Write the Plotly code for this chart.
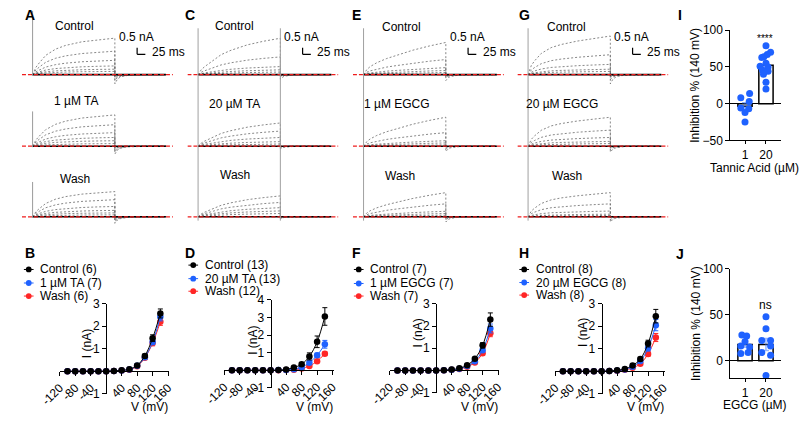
import plotly.graph_objects as go

# ---------------- data ----------------
# current traces: normalised activation time course (at TRACE_T, ms) and amplitudes (nA)
TRACE_T = [0, 5, 10, 20, 40, 70, 100, 150, 200, 250]
SHAPE_A = [0, 0.12, 0.2, 0.32, 0.53, 0.7, 0.8, 0.9, 0.96, 1.0]
SHAPE_C = [0, 0.08, 0.14, 0.22, 0.35, 0.55, 0.67, 0.82, 0.92, 1.0]
SHAPE_E = [0, 0.1, 0.16, 0.25, 0.37, 0.5, 0.6, 0.76, 0.89, 1.0]
SHAPE_G = [0, 0.15, 0.24, 0.36, 0.55, 0.7, 0.78, 0.87, 0.94, 1.0]
TAIL_T = [0, 3, 8, 15, 25, 40, 70, 110, 155]
TAIL_SHAPE = [1, 0.72, 0.48, 0.3, 0.17, 0.08, 0.03, 0.01, 0]

AMP_A_CTRL = [2.8, 1.8, 1.1, 0.67, 0.42, 0.25]
AMP_A_TA1 = [2.4, 1.65, 1.04, 0.67, 0.42, 0.2]
AMP_A_WASH = [1.93, 1.31, 0.79, 0.49, 0.3, 0.15]
AMP_C_CTRL = [2.79, 1.36, 0.62, 0.37, 0.2]
AMP_C_TA20 = [1.78, 1.16, 0.67, 0.35, 0.17]
AMP_C_WASH = [1.6, 1.1, 0.7, 0.45, 0.25]
AMP_E_CTRL = [2.47, 1.16, 0.54, 0.32, 0.17]
AMP_E_EG1 = [2.22, 1.04, 0.42, 0.25, 0.1]
AMP_E_WASH = [1.85, 0.99, 0.42, 0.25, 0.12]
AMP_G_CTRL = [2.96, 1.53, 0.79, 0.42, 0.25]
AMP_G_EG20 = [2.22, 1.23, 0.67, 0.37, 0.2]
AMP_G_WASH = [1.85, 0.99, 0.44, 0.2, 0.1]
TAIL_PEAK_A = [-0.7, -0.6, -0.5]
TAIL_PEAK_C = [-0.35, -0.2, -0.15]
TAIL_PEAK_E = [-0.45, -0.4, -0.4]
TAIL_PEAK_G = [-0.7, -0.45, -0.4]
LABELS_A = ["Control", "1 µM TA", "Wash"]
LABELS_C = ["Control", "20 µM TA", "Wash"]
LABELS_E = ["Control", "1 µM EGCG", "Wash"]
LABELS_G = ["Control", "20 µM EGCG", "Wash"]

# I-V curves
V_MV = [-100, -80, -60, -40, -20, 0, 20, 40, 60, 80, 100, 120, 140]
B_CTRL = [0, 0, 0, 0, 0, 0, 0.01, 0.04, 0.09, 0.26, 0.68, 1.47, 2.57]
B_CTRL_ERR = [0, 0, 0, 0, 0, 0, 0.01, 0.01, 0.02, 0.04, 0.08, 0.15, 0.2]
B_TA1 = [0, 0, 0, 0, 0, 0, 0.01, 0.03, 0.08, 0.24, 0.62, 1.3, 2.42]
B_TA1_ERR = [0, 0, 0, 0, 0, 0, 0.01, 0.01, 0.02, 0.04, 0.07, 0.12, 0.18]
B_WASH = [0, 0, 0, 0, 0, 0, 0.01, 0.03, 0.07, 0.22, 0.6, 1.25, 2.2]
B_WASH_ERR = [0, 0, 0, 0, 0, 0, 0.01, 0.01, 0.02, 0.04, 0.07, 0.12, 0.16]
D_CTRL = [0, 0, 0, 0, 0, 0, 0.01, 0.05, 0.16, 0.34, 0.79, 1.62, 3.06]
D_CTRL_ERR = [0, 0, 0, 0, 0, 0, 0.01, 0.02, 0.05, 0.08, 0.2, 0.33, 0.5]
D_TA20 = [0, 0, 0, 0, 0, 0, 0.01, 0.02, 0.06, 0.18, 0.43, 0.85, 1.48]
D_TA20_ERR = [0, 0, 0, 0, 0, 0, 0.01, 0.01, 0.02, 0.03, 0.06, 0.12, 0.22]
D_WASH = [0, 0, 0, 0, 0, 0, 0, 0.01, 0.03, 0.1, 0.25, 0.52, 0.94]
D_WASH_ERR = [0, 0, 0, 0, 0, 0, 0, 0.01, 0.01, 0.02, 0.03, 0.06, 0.1]
F_CTRL = [0, 0, 0, 0, 0, 0, 0.01, 0.04, 0.1, 0.24, 0.53, 1.13, 2.29]
F_CTRL_ERR = [0, 0, 0, 0, 0, 0, 0.01, 0.01, 0.02, 0.03, 0.06, 0.12, 0.3]
F_EG1 = [0, 0, 0, 0, 0, 0, 0.01, 0.03, 0.08, 0.2, 0.42, 0.91, 1.89]
F_EG1_ERR = [0, 0, 0, 0, 0, 0, 0.01, 0.01, 0.02, 0.03, 0.05, 0.1, 0.2]
F_WASH = [0, 0, 0, 0, 0, 0, 0.01, 0.03, 0.07, 0.17, 0.36, 0.78, 1.67]
F_WASH_ERR = [0, 0, 0, 0, 0, 0, 0.01, 0.01, 0.02, 0.03, 0.04, 0.08, 0.15]
H_CTRL = [0, 0, 0, 0, 0, 0, 0.01, 0.04, 0.1, 0.26, 0.54, 1.23, 2.45]
H_CTRL_ERR = [0, 0, 0, 0, 0, 0, 0.01, 0.01, 0.02, 0.04, 0.08, 0.15, 0.3]
H_EG20 = [0, 0, 0, 0, 0, 0, 0.01, 0.03, 0.08, 0.2, 0.45, 1.02, 2.05]
H_EG20_ERR = [0, 0, 0, 0, 0, 0, 0.01, 0.01, 0.02, 0.03, 0.06, 0.12, 0.25]
H_WASH = [0, 0, 0, 0, 0, 0, 0.01, 0.02, 0.06, 0.15, 0.33, 0.77, 1.5]
H_WASH_ERR = [0, 0, 0, 0, 0, 0, 0.01, 0.01, 0.02, 0.03, 0.05, 0.1, 0.18]
IV_TICKS = [-120, -80, -40, 0, 40, 80, 120, 160]
IV_TICKTEXT = ["-120", "-80", "-40", "", "40", "80", "120", "160"]

# inhibition at 140 mV (%)
CONC_LABELS = ["1", "20"]
I_TA1 = [8, 14, 3, -6, -7, -12, -25]
I_TA20 = [79, 70, 67, 64, 63, 55, 51, 50, 46, 44, 40, 29, 20]
I_MEAN = [-3.6, 52.2]
I_SEM = [4.9, 4.5]
J_EG1 = [28, 27, 21, 16, 15, 9, 8]
J_EG20 = [48, 35, 22, 22, 16, 9, 6, -16]
J_MEAN = [17.7, 17.8]
J_SEM = [2.9, 6.6]
# horizontal scatter of the dots (layout only)
JIT_I1 = [-0.2, 0.22, 0.2, -0.2, 0.18, 0.0, 0.0]
JIT_I20 = [0, 0.22, 0.06, -0.1, -0.2, 0, -0.28, 0.1, -0.17, 0.1, -0.12, 0, 0]
JIT_J1 = [-0.15, 0.08, 0, -0.2, 0.22, 0.15, -0.2]
JIT_J20 = [0, 0, -0.2, 0.22, 0.22, -0.2, 0.22, 0]

# ---------------- layout helpers ----------------
W, H = 805, 421
FONT = "Arial, Liberation Sans, sans-serif"
BLUE = "#1f62ff"
RED = "#ff2626"
BLACK = "#000000"


def px(x):
    return x / W


def py(y):
    return 1 - y / H


fig = go.Figure()
layout = {}
annotations = []
shapes = []
_n = [0]


def new_axes(xd, yd, xr, yr):
    _n[0] += 1
    s = "" if _n[0] == 1 else str(_n[0])
    layout["xaxis" + s] = dict(domain=xd, range=xr, visible=False, anchor="y" + s, fixedrange=True)
    layout["yaxis" + s] = dict(domain=yd, range=yr, visible=False, anchor="x" + s, fixedrange=True)
    return "x" + s, "y" + s, s


def text(x, y, t, size=12, xanchor="center", bold=False, angle=0):
    annotations.append(dict(x=px(x), y=py(y), xref="paper", yref="paper", text=("<b>%s</b>" % t) if bold else t,
                            showarrow=False, xanchor=xanchor, yanchor="middle", textangle=angle,
                            font=dict(family=FONT, size=size, color=BLACK)))


# ---------------- current traces (A, C, E, G) ----------------
PX_MS = 0.34      # pixels per ms
PX_NA = 13.5      # pixels per nA
STEP = 250
BASE = [70, 144, 217]
COLS = [
    dict(letter="A", lx=2, x0=12, shape=SHAPE_A, amps=[AMP_A_CTRL, AMP_A_TA1, AMP_A_WASH], tails=TAIL_PEAK_A,
         labels=LABELS_A, lab_x=[55, 57, 56], lab_y=[20, 97, 178], full=False, endline=False),
    dict(letter="C", lx=167, x0=183, shape=SHAPE_C, amps=[AMP_C_CTRL, AMP_C_TA20, AMP_C_WASH], tails=TAIL_PEAK_C,
         labels=LABELS_C, lab_x=[221, 221, 221], lab_y=[20, 100, 174], full=True, endline=True),
    dict(letter="E", lx=340, x0=354, shape=SHAPE_E, amps=[AMP_E_CTRL, AMP_E_EG1, AMP_E_WASH], tails=TAIL_PEAK_E,
         labels=LABELS_E, lab_x=[393, 389, 392], lab_y=[21, 100, 175], full=True, endline=False),
    dict(letter="G", lx=513, x0=524, shape=SHAPE_G, amps=[AMP_G_CTRL, AMP_G_EG20, AMP_G_WASH], tails=TAIL_PEAK_G,
         labels=LABELS_G, lab_x=[564, 559, 564], lab_y=[21, 100, 175], full=True, endline=False),
]

for col in COLS:
    x0 = col["x0"]
    text(col["lx"], 8, col["letter"], size=14, xanchor="left", bold=True)
    first_ref = None
    for r in range(3):
        yb = BASE[r]
        xr = [-11 / PX_MS, 145 / PX_MS]
        yr = [-12 / PX_NA, 45 / PX_NA]
        xa, ya, s = new_axes([px(x0 - 11), px(x0 + 145)], [py(yb + 12), py(yb - 45)], xr, yr)
        if first_ref is None:
            first_ref = (xa, ya)
        amps = col["amps"][r]
        for a in amps:
            tt = TRACE_T + [STEP + t for t in TAIL_T]
            yy = [a * v for v in col["shape"]] + [col["tails"][r] * a / amps[0] * v for v in TAIL_SHAPE]
            fig.add_trace(go.Scatter(x=tt, y=yy, xaxis=xa, yaxis=ya, mode="lines", showlegend=False,
                                     hoverinfo="skip",
                                     line=dict(color="#6a6a6a", width=0.8, dash="2px,2px")))
        fig.add_trace(go.Scatter(x=[0, STEP + TAIL_T[-1]], y=[0, 0], xaxis=xa, yaxis=ya, mode="lines",
                                 showlegend=False, hoverinfo="skip", line=dict(color=BLACK, width=1.6)))
        fig.add_trace(go.Scatter(x=xr, y=[0, 0], xaxis=xa, yaxis=ya, mode="lines", showlegend=False,
                                 hoverinfo="skip", line=dict(color="#ee1c1c", width=1.3, dash="4px,2px")))
        if not col["full"]:
            shapes.append(dict(type="line", xref=xa, yref="paper", x0=0, x1=0, y0=py(yb + 1), y1=py(yb - 66 if r == 0 else yb - 36),
                               line=dict(color="#9a9a9a", width=1)))
        text(col["lab_x"][r], col["lab_y"][r], col["labels"][r], size=12)
    xa, ya = first_ref
    if col["full"]:
        shapes.append(dict(type="line", xref=xa, yref="paper", x0=0, x1=0, y0=py(221), y1=py(22),
                           line=dict(color="#a0a0a0", width=1)))
    if col["endline"]:
        shapes.append(dict(type="line", xref=xa, yref="paper", x0=STEP, x1=STEP, y0=py(221), y1=py(22),
                           line=dict(color="#a0a0a0", width=1)))
    # scale bar (0.5 nA, 25 ms)
    tsb = 108 / PX_MS
    ysb = (70 - 49) / PX_NA
    shapes.append(dict(type="line", xref=xa, yref=ya, x0=tsb, x1=tsb, y0=ysb, y1=ysb + 0.5,
                       line=dict(color=BLACK, width=1.2)))
    shapes.append(dict(type="line", xref=xa, yref=ya, x0=tsb, x1=tsb + 25, y0=ysb, y1=ysb,
                       line=dict(color=BLACK, width=1.2)))
    text(x0 + 107, 31, "0.5 nA", size=12)
    text(x0 + 121, 47, "25 ms", size=12, xanchor="left")

# ---------------- I-V panels (B, D, F, H) ----------------
IVS = [
    dict(letter="B", lx=2, y0x=88, ytop=307, ybot=400, yr=[-1, 3],
         series=[(B_WASH, B_WASH_ERR, "Wash (6)", RED), (B_TA1, B_TA1_ERR, "1 µM TA (7)", BLUE),
                 (B_CTRL, B_CTRL_ERR, "Control (6)", BLACK)], leg_y=[271.5, 285.5, 299], title_y=348),
    dict(letter="D", lx=167, y0x=258, ytop=303, ybot=394, yr=[-1, 4],
         series=[(D_WASH, D_WASH_ERR, "Wash (12)", RED), (D_TA20, D_TA20_ERR, "20 µM TA (13)", BLUE),
                 (D_CTRL, D_CTRL_ERR, "Control (13)", BLACK)], leg_y=[267, 281, 294], title_y=345),
    dict(letter="F", lx=340, y0x=429, ytop=307, ybot=399, yr=[-1, 3],
         series=[(F_WASH, F_WASH_ERR, "Wash (7)", RED), (F_EG1, F_EG1_ERR, "1 µM EGCG (7)", BLUE),
                 (F_CTRL, F_CTRL_ERR, "Control (7)", BLACK)], leg_y=[271.5, 286, 299], title_y=337),
    dict(letter="H", lx=513, y0x=600, ytop=307, ybot=400, yr=[-1, 3],
         series=[(H_WASH, H_WASH_ERR, "Wash (8)", RED), (H_EG20, H_EG20_ERR, "20 µM EGCG (8)", BLUE),
                 (H_CTRL, H_CTRL_ERR, "Control (8)", BLACK)], leg_y=[271.5, 285, 298], title_y=337),
]
PX_MV = 0.4
for iv in IVS:
    y0x = iv["y0x"]
    text(iv["lx"], 254, iv["letter"], size=14, xanchor="left", bold=True)
    xr = [-120, 163]
    xd = [px(y0x + xr[0] * PX_MV), px(y0x + xr[1] * PX_MV)]
    yd = [py(iv["ybot"]), py(iv["ytop"])]
    xa, ya, s = new_axes(xd, yd, xr, iv["yr"])
    ymin, ymax = iv["yr"]
    zero_px = iv["ytop"] + (ymax - 0) / (ymax - ymin) * (iv["ybot"] - iv["ytop"])
    layout["xaxis" + s].update(visible=True, anchor="free", position=py(zero_px), showline=True,
                               linecolor=BLACK, linewidth=1, ticks="outside", ticklen=4, tickcolor=BLACK,
                               tickvals=IV_TICKS, ticktext=IV_TICKTEXT, tickangle=-45, showgrid=False,
                               zeroline=False, tickfont=dict(family=FONT, size=12, color=BLACK))
    yt = list(range(ymin, ymax + 1))
    layout["yaxis" + s].update(visible=True, anchor="free", position=px(y0x), showline=True,
                               linecolor=BLACK, linewidth=1, ticks="outside", ticklen=4, tickcolor=BLACK,
                               tickvals=yt, ticktext=["" if v == 0 else str(v) for v in yt], showgrid=False,
                               zeroline=False, tickfont=dict(family=FONT, size=12, color=BLACK))
    for vals, errs, name, color in iv["series"]:
        fig.add_trace(go.Scatter(x=V_MV, y=vals, xaxis=xa, yaxis=ya, mode="lines+markers", name=name,
                                 showlegend=False, line=dict(color=color, width=1, shape="spline"),
                                 marker=dict(color=color, size=6.5),
                                 error_y=dict(type="data", array=errs, color=color, thickness=1, width=2.5)))
    # legend (manual, compact rows as in the reference)
    for (vals, errs, name, color), ly in zip(reversed(iv["series"]), iv["leg_y"]):
        mx = y0x - 80
        shapes.append(dict(type="line", xref="paper", yref="paper", x0=px(mx - 5), x1=px(mx + 5), y0=py(ly), y1=py(ly),
                           line=dict(color=color, width=1)))
        shapes.append(dict(type="circle", xref="paper", yref="paper", x0=px(mx - 3), x1=px(mx + 3),
                           y0=py(ly + 3), y1=py(ly - 3), fillcolor=color, line=dict(color=color, width=0)))
        text(y0x - 70, ly, name, size=12, xanchor="left")
    text(y0x - 19, iv["title_y"], "I (nA)", size=12, angle=-90)
    text(y0x + 45, 414, "V (mV)", size=12)

# ---------------- inhibition panels (I, J) ----------------
BARS = [
    dict(letter="I", lx=677, ly=8, ytop=24, ybot=138, yr=[-50, 100], ticks=[-50, 0, 50, 100],
         pts=[I_TA1, I_TA20], jit=[JIT_I1, JIT_I20], mean=I_MEAN, sem=I_SEM, xtitle="Tannic Acid (µM)",
         xt_y=167, mark="****", mark_y=33, mark_size=10),
    dict(letter="J", lx=675, ly=255, ytop=271, ybot=384, yr=[-19, 100], ticks=[0, 50, 100],
         pts=[J_EG1, J_EG20], jit=[JIT_J1, JIT_J20], mean=J_MEAN, sem=J_SEM, xtitle="EGCG (µM)",
         xt_y=412, mark="ns", mark_y=308, mark_size=12),
]
for b in BARS:
    text(b["lx"], b["ly"], b["letter"], size=14, xanchor="left", bold=True)
    xa, ya, s = new_axes([px(733), px(785)], [py(b["ybot"]), py(b["ytop"])], [0.3, 2.7], b["yr"])
    layout["xaxis" + s].update(visible=True, showline=True, linecolor=BLACK, linewidth=1, ticks="outside",
                               ticklen=3, tickcolor=BLACK, tickvals=[1, 2], ticktext=CONC_LABELS,
                               showgrid=False, zeroline=False, tickfont=dict(family=FONT, size=12, color=BLACK))
    layout["yaxis" + s].update(visible=True, showline=True, linecolor=BLACK, linewidth=1, ticks="outside",
                               ticklen=4, tickcolor=BLACK, tickvals=b["ticks"], showgrid=False,
                               zeroline=True, zerolinecolor=BLACK, zerolinewidth=1,
                               tickfont=dict(family=FONT, size=12, color=BLACK))
    fig.add_trace(go.Bar(x=[1, 2], y=b["mean"], xaxis=xa, yaxis=ya, width=0.68, showlegend=False,
                         marker=dict(color="white", line=dict(color=BLACK, width=1.5)),
                         error_y=dict(type="data", array=b["sem"], color="rgba(60,120,255,0.55)",
                                      thickness=1.5, width=3)))
    for i, (vals, jit) in enumerate(zip(b["pts"], b["jit"])):
        fig.add_trace(go.Scatter(x=[i + 1 + j for j in jit], y=vals, xaxis=xa, yaxis=ya, mode="markers",
                                 showlegend=False, marker=dict(color=BLUE, size=7)))
    text(697, (b["ytop"] + b["ybot"]) / 2, "Inhibition % (140 mV)", size=12, angle=-90)
    text(758, b["xt_y"], b["xtitle"], size=12)
    text(769, b["mark_y"], b["mark"], size=b["mark_size"])

layout.update(width=W, height=H, margin=dict(l=0, r=0, t=0, b=0), autosize=False,
              paper_bgcolor="white", plot_bgcolor="rgba(0,0,0,0)", showlegend=False,
              annotations=annotations, shapes=shapes, bargap=0.3,
              font=dict(family=FONT, size=12, color=BLACK))
fig.update_layout(**layout)
fig.write_html("out.html", config={"displayModeBar": False, "staticPlot": True},
               post_script="document.body.style.margin='0';document.body.style.overflow='hidden';")
